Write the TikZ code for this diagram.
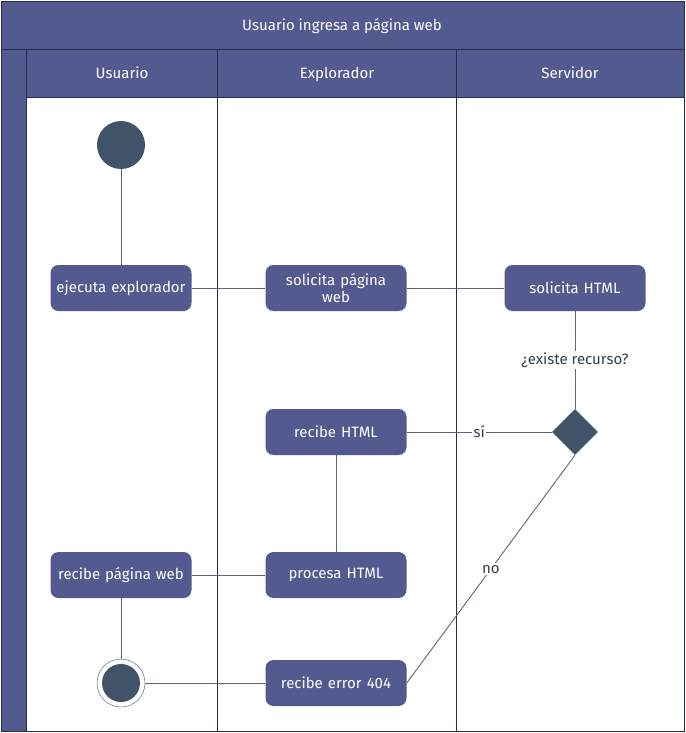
\documentclass[tikz,border=0pt]{standalone}
\usepackage{fontspec}
\setmainfont{Fira Sans}
\usetikzlibrary{shapes.geometric}
\definecolor{lanefill}{HTML}{535A8F}
\definecolor{laneline}{HTML}{262B4A}
\definecolor{dotfill}{HTML}{415369}
\definecolor{wire}{HTML}{5D6679}
\definecolor{labeltext}{HTML}{333F50}

\begin{document}
\begin{tikzpicture}[x=1pt,y=-1pt,
  action/.style={draw=none,fill=lanefill,rounded corners=8pt,minimum width=141pt,minimum height=46pt,
    text=white,align=center,font=\fontsize{15}{16.5}\selectfont,text width=136pt,inner sep=2pt},
  startdot/.style={circle,fill=dotfill,minimum size=48pt,inner sep=0pt},
  enddot/.style={circle,draw=dotfill,fill=white,minimum size=48pt,inner sep=0pt,
    path picture={\fill[dotfill] (path picture bounding box.center) circle (19pt);}},
  choice/.style={diamond,fill=dotfill,minimum size=46pt,inner sep=0pt},
  wirelabel/.style={fill=white,text=labeltext,inner sep=1.5pt,font=\fontsize{15}{16.5}\selectfont},
  header/.style={text=white,font=\fontsize{15}{16.5}\selectfont,anchor=base}]
\useasboundingbox (0,0) rectangle (685,733);
%Lanes
\fill[lanefill] (1,1) rectangle (684,97);
\fill[lanefill] (1,49) rectangle (26,731);
\draw[laneline] (1,1) rectangle (684,731);
\draw[laneline] (1,49) -- (684,49);
\draw[laneline] (26,49) -- (26,731);
\draw[laneline] (26,97) -- (684,97);
\draw[laneline] (217,49) -- (217,731);
\draw[laneline] (456,49) -- (456,731);
\path
 (342,30.5) node[header] (title) {Usuario ingresa a página web}
 (122,78.5) node[header] (hUsuario) {Usuario}
 (337,78.5) node[header] (hExplorador) {Explorador}
 (570,78.5) node[header] (hServidor) {Servidor}
 ;
%Nodes
\path
 (121,145) node[startdot] (inicio) {}
 (121,288) node[action] (ejecuta) {ejecuta explorador}
 (336,288) node[action] (solicitaPag) {solicita página\\web}
 (575,288) node[action] (solicitaHtml) {solicita HTML}
 (575,432) node[choice] (existe) {}
 (336,432) node[action] (recibeHtml) {recibe HTML}
 (336,575) node[action] (procesa) {procesa HTML}
 (121,575) node[action] (recibePag) {recibe página web}
 (121,683) node[enddot] (fin) {}
 (336,683) node[action] (error) {recibe error 404}
 ;
%Edges
\begin{scope}[wire,line width=0.9pt]
\draw (inicio) -- (ejecuta);
\draw (ejecuta) -- (solicitaPag);
\draw (solicitaPag) -- (solicitaHtml);
\draw (solicitaHtml) -- node[wirelabel] {¿existe recurso?} (existe);
\draw (existe) -- node[wirelabel,pos=0.5] {sí} (recibeHtml);
\draw (recibeHtml) -- (procesa);
\draw (procesa) -- (recibePag);
\draw (recibePag) -- (fin);
\draw (fin) -- (error);
\draw (existe.south) -- node[wirelabel] {no} (error.east);
\end{scope}
\end{tikzpicture}
\end{document}
